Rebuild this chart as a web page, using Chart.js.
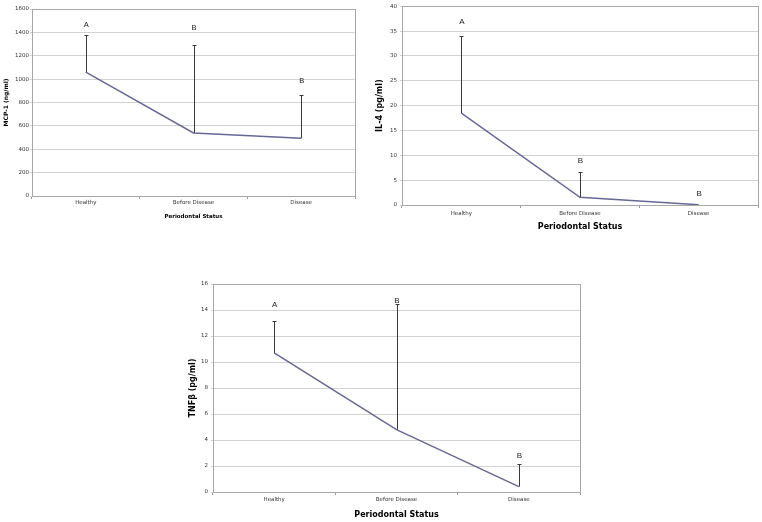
<!DOCTYPE html>
<html>
<head>
<meta charset="utf-8">
<script src="https://cdn.jsdelivr.net/npm/chart.js@4/dist/chart.umd.min.js"></script>
<style>
  html, body { margin: 0; padding: 0; background: #fff; }
  body { width: 762px; height: 522px; position: relative; overflow: hidden; }
  canvas { position: absolute; }
</style>
</head>
<body>
<canvas id="mcp" width="365" height="225" style="left:0;top:0"></canvas>
<canvas id="il4" width="392" height="240" style="left:370px;top:0"></canvas>
<canvas id="tnf" width="420" height="252" style="left:180px;top:270px"></canvas>
<script>
"use strict";

/* data */
var categories = ['Healthy', 'Before Disease', 'Disease'];
var letters = ['A', 'B', 'B'];

var mcpMeans = [1060, 540, 494];
var mcpSD = [320, 755, 372];
var mcpLetterAt = [1460, 1437, 983];
var mcpTicks = { min: 0, max: 1600, step: 200 };

var il4Means = [18.5, 1.55, 0.05];
var il4SD = [15.5, 5.05, 0];
var il4LetterAt = [36.8, 8.85, 2.2];
var il4Ticks = { min: 0, max: 40, step: 5 };

var tnfMeans = [10.7, 4.8, 0.41];
var tnfSD = [2.43, 9.7, 1.72];
var tnfLetterAt = [14.4, 14.7, 2.75];
var tnfTicks = { min: 0, max: 16, step: 2 };

/* upper error bars, letters and plot frame */
var errbarsPlugin = {
    id: 'errbars',
    afterDatasetsDraw: function (chart, args, opts) {
        var ctx = chart.ctx;
        var x = chart.scales.x, y = chart.scales.y;
        var means = chart.data.datasets[0].data;
        ctx.save();
        ctx.strokeStyle = '#3a3a3a';
        ctx.lineWidth = 1;
        means.forEach(function (m, i) {
            if (!opts.sd[i]) return;
            var px = Math.round(x.getPixelForValue(i)) + 0.5;
            var y0 = y.getPixelForValue(m);
            var y1 = Math.round(y.getPixelForValue(m + opts.sd[i])) + 0.5;
            ctx.beginPath();
            ctx.moveTo(px, y0);
            ctx.lineTo(px, y1);
            ctx.moveTo(px - 2, y1);
            ctx.lineTo(px + 2, y1);
            ctx.stroke();
        });
        ctx.fillStyle = '#222';
        ctx.font = opts.letterSize + 'px "Liberation Sans", Arial, sans-serif';
        ctx.textAlign = 'center';
        ctx.textBaseline = 'middle';
        opts.letterAt.forEach(function (v, i) {
            ctx.fillText(letters[i], x.getPixelForValue(i) + 0.5, y.getPixelForValue(v));
        });
        ctx.restore();
    },
    beforeDatasetsDraw: function (chart) {
        var a = chart.chartArea, ctx = chart.ctx;
        ctx.save();
        ctx.strokeStyle = '#a8a8a8';
        ctx.lineWidth = 1;
        ctx.strokeRect(Math.round(a.left) + 0.5, Math.round(a.top) + 0.5,
            Math.round(a.right - a.left), Math.round(a.bottom - a.top));
        ctx.restore();
    }
};

function makeChart(id, means, sd, letterAt, ticks, cfg) {
    var ctx = document.getElementById(id).getContext('2d');
    return new Chart(ctx, {
        type: 'line',
        data: {
            labels: categories,
            datasets: [{
                data: means,
                borderColor: '#67679a',
                borderWidth: 1.5,
                pointRadius: 0,
                tension: 0,
                fill: false
            }]
        },
        plugins: [errbarsPlugin],
        options: {
            responsive: false,
            animation: false,
            devicePixelRatio: 1,
            layout: { padding: cfg.pad },
            plugins: {
                legend: { display: false },
                tooltip: { enabled: false },
                errbars: { sd: sd, letterAt: letterAt, letterSize: cfg.letterSize }
            },
            scales: {
                x: {
                    offset: true,
                    grid: { display: true, drawOnChartArea: false, tickLength: 3, color: '#999', offset: true },
                    border: { color: '#999' },
                    ticks: {
                        color: '#333',
                        padding: cfg.xTickPad,
                        maxRotation: 0,
                        font: { family: '"DejaVu Sans", Verdana, sans-serif', size: 5.5 }
                    },
                    title: {
                        display: true,
                        text: 'Periodontal Status',
                        color: '#000',
                        padding: { top: 0, bottom: cfg.xTitlePad },
                        font: { family: '"DejaVu Sans", Verdana, sans-serif', size: cfg.xTitleSize, weight: 'bold' }
                    },
                    afterFit: function (s) { s.height = cfg.xHeight; }
                },
                y: {
                    min: ticks.min,
                    max: ticks.max,
                    grid: { color: '#d2d2d2', tickLength: 2 },
                    border: { color: '#999' },
                    ticks: {
                        stepSize: ticks.step,
                        color: '#333',
                        padding: cfg.yTickPad,
                        callback: function (v) { return String(v); },
                        font: { family: '"DejaVu Sans", Verdana, sans-serif', size: 5.5 }
                    },
                    title: {
                        display: true,
                        text: cfg.yTitle,
                        color: '#000',
                        padding: { top: cfg.yTitlePad, bottom: 0 },
                        font: { family: '"DejaVu Sans", Verdana, sans-serif', size: cfg.yTitleSize, weight: 'bold' }
                    },
                    afterFit: function (s) { s.width = cfg.yWidth; }
                }
            }
        }
    });
}

makeChart('mcp', mcpMeans, mcpSD, mcpLetterAt, mcpTicks, {
    pad: { top: 9, right: 10, left: 0, bottom: 0 },
    yWidth: 32, xHeight: 29,
    yTitle: 'MCP-1 (ng/ml)', yTitleSize: 6, yTitlePad: 2.4, yTickPad: 1,
    xTitleSize: 5.5, xTitlePad: 4.7, xTickPad: 0.7,
    letterSize: 7.5
});

makeChart('il4', il4Means, il4SD, il4LetterAt, il4Ticks, {
    pad: { top: 5, right: 4, left: 0, bottom: 0 },
    yWidth: 32, xHeight: 35,
    yTitle: 'IL-4 (pg/ml)', yTitleSize: 8, yTitlePad: 5.2, yTickPad: 3,
    xTitleSize: 8, xTitlePad: 8.2, xTickPad: 2.4,
    letterSize: 8
});

makeChart('tnf', tnfMeans, tnfSD, tnfLetterAt, tnfTicks, {
    pad: { top: 14, right: 20, left: 0, bottom: 0 },
    yWidth: 33, xHeight: 30,
    yTitle: 'TNFβ (pg/ml)', yTitleSize: 8, yTitlePad: 8.2, yTickPad: 3,
    xTitleSize: 8, xTitlePad: 2.2, xTickPad: 1.4,
    letterSize: 8
});
</script>
</body>
</html>
